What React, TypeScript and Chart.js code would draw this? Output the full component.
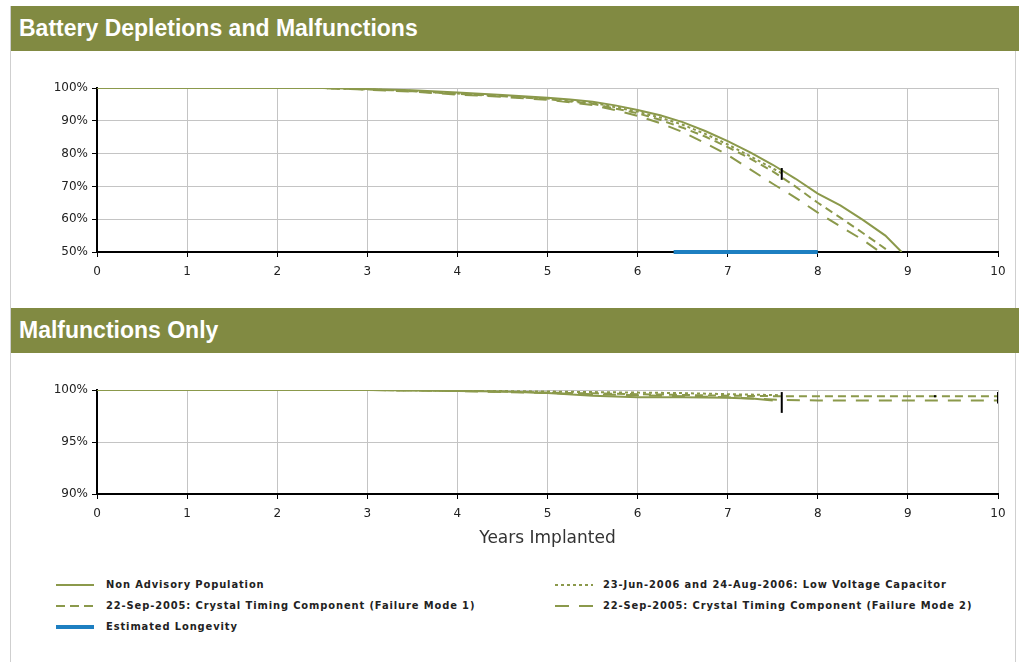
import React, { useEffect, useRef } from "react";
import { Chart, registerables } from "chart.js";

Chart.register(...registerables);

// ---------- Labels ----------
const HEADER_TOP = "Battery Depletions and Malfunctions";
const HEADER_BOTTOM = "Malfunctions Only";
const X_TITLE = "Years Implanted";
const SERIES_NAMES = [
  "Non Advisory Population",
  "23-Jun-2006 and 24-Aug-2006: Low Voltage Capacitor",
  "22-Sep-2005: Crystal Timing Component (Failure Mode 1)",
  "22-Sep-2005: Crystal Timing Component (Failure Mode 2)",
  "Estimated Longevity",
];

// ---------- Top chart: Battery Depletions and Malfunctions (%) ----------
const batNonAdvX = [0, 1, 2, 2.5, 3, 3.5, 4, 4.5, 5, 5.25, 5.5, 5.75, 6, 6.25, 6.5, 6.75, 7, 7.25, 7.5, 7.75, 8, 8.25, 8.5, 8.75, 8.93];
const batNonAdvY = [100, 100, 100, 100, 99.7, 99.3, 98.6, 97.9, 97.0, 96.5, 95.8, 94.7, 93.3, 91.7, 89.6, 86.9, 83.8, 80.4, 76.6, 72.4, 67.8, 64.2, 59.8, 55.0, 50];

const batLvcX = [0, 1, 2, 2.5, 3, 3.5, 4, 4.5, 5, 5.5, 6, 6.25, 6.5, 6.75, 7, 7.25, 7.5, 7.6];
const batLvcY = [100, 100, 100, 100, 99.6, 99.1, 98.3, 97.6, 96.8, 95.5, 92.8, 91.0, 88.8, 86.0, 82.8, 79.2, 75.5, 74.0];

const batMode1X = [0, 1, 2, 2.5, 3, 3.5, 4, 4.5, 5, 5.5, 6, 6.25, 6.5, 6.75, 7, 7.25, 7.5, 7.75, 8, 8.25, 8.5, 8.8];
const batMode1Y = [100, 100, 100, 100, 99.6, 99.0, 98.2, 97.5, 96.6, 95.2, 92.3, 90.3, 87.9, 85.2, 82.0, 78.5, 74.6, 70.0, 65.0, 60.5, 55.8, 50];

const batMode2X = [0, 1, 2, 2.5, 3, 3.5, 4, 4.5, 5, 5.5, 5.75, 6, 6.25, 6.5, 6.75, 7, 7.25, 7.5, 7.75, 8, 8.25, 8.5, 8.69];
const batMode2Y = [100, 100, 100, 100, 99.5, 98.9, 98.0, 97.3, 96.4, 94.8, 93.3, 91.5, 89.3, 86.6, 83.2, 79.6, 75.2, 70.8, 66.6, 62.0, 57.8, 53.7, 50];

const longevityX = [6.4, 8.0];
const longevityY = [50, 50];

const batErrX = [7.6, 7.6];
const batErrY = [72, 75.6];

// ---------- Bottom chart: Malfunctions Only (%) ----------
const malNonAdvX = [0, 1, 2, 3, 3.5, 4, 4.5, 5, 5.5, 6, 6.5, 7, 7.3, 7.5];
const malNonAdvY = [100, 100, 100, 100, 99.95, 99.9, 99.85, 99.7, 99.45, 99.3, 99.3, 99.25, 99.15, 99.0];

const malLvcX = [0, 1, 2, 3, 4, 5, 5.5, 6, 6.5, 7, 7.6];
const malLvcY = [100, 100, 100, 100, 99.95, 99.85, 99.8, 99.75, 99.7, 99.6, 99.5];

const malMode1X = [0, 1, 2, 3, 4, 5, 6, 7, 7.6, 8, 9, 9.3, 10];
const malMode1Y = [100, 100, 100, 100, 99.95, 99.75, 99.6, 99.45, 99.4, 99.4, 99.4, 99.4, 99.4];

const malMode2X = [0, 1, 2, 3, 4, 5, 6, 7, 7.6, 8, 9, 10];
const malMode2Y = [100, 100, 100, 100, 99.9, 99.7, 99.5, 99.3, 99.05, 99.0, 99.0, 99.0];

const malErr1X = [7.6, 7.6];
const malErr1Y = [97.8, 99.8];
const malErr2X = [9.3, 9.3];
const malErr2Y = [99.3, 99.5];
const malErr3X = [10, 10];
const malErr3Y = [98.7, 99.8];

// ---------- Axis ticks ----------
const X_MIN = 0;
const X_MAX = 10;
const X_STEP = 1;
const TOP_Y = [50, 100, 10];
const BOTTOM_Y = [90, 100, 5];

// ---------- Styles ----------
const OLIVE = "#8b994b";
const BLUE = "#1d7fc1";
const HEADER_BG = "#818a42";
const DASH_LVC = [3, 3];
const DASH_M1 = [8, 5];
const DASH_M2 = [13, 10];

const pts = (xs: number[], ys: number[]) => xs.map((x, i) => ({ x, y: ys[i] }));

const lineDs = (xs: number[], ys: number[], dash: number[], color = OLIVE, width = 2, clip: any = undefined) => ({
  data: pts(xs, ys),
  borderColor: color,
  borderWidth: width,
  borderDash: dash,
  pointRadius: 0,
  tension: 0,
  fill: false,
  ...(clip !== undefined ? { clip } : {}),
});

const tickFont = { family: "'DejaVu Sans', sans-serif", size: 12 };

function makeOptions(yCfg: number[], pad: any, xHeight: number, withTitle: boolean) {
  return {
    responsive: false,
    maintainAspectRatio: false,
    animation: false,
    layout: { padding: pad },
    plugins: { legend: { display: false }, tooltip: { enabled: false } },
    scales: {
      x: {
        type: "linear",
        min: X_MIN,
        max: X_MAX,
        ticks: { stepSize: X_STEP, font: tickFont, color: "#222", padding: 8, maxRotation: 0 },
        grid: { color: "#c4c4c4", tickColor: "#000", tickLength: 5, lineWidth: 1 },
        border: { display: true, color: "#000", width: 2 },
        title: withTitle
          ? { display: true, text: X_TITLE, font: { family: "'DejaVu Sans', sans-serif", size: 17 }, color: "#333", padding: 4 }
          : { display: false },
        afterFit: (s: any) => {
          s.height = xHeight;
        },
      },
      y: {
        type: "linear",
        min: yCfg[0],
        max: yCfg[1],
        ticks: { stepSize: yCfg[2], font: tickFont, color: "#222", padding: 4, callback: (v: any) => v + "%" },
        grid: { color: "#c4c4c4", tickColor: "#000", tickLength: 5, lineWidth: 1 },
        border: { display: true, color: "#000", width: 2 },
        afterFit: (s: any) => {
          s.width = 97;
        },
      },
    },
  };
}

export default function App() {
  const topRef = useRef<HTMLCanvasElement>(null);
  const botRef = useRef<HTMLCanvasElement>(null);

  useEffect(() => {
    const top = new Chart(topRef.current as HTMLCanvasElement, {
      type: "line",
      data: {
        datasets: [
          lineDs(batErrX, batErrY, [], "#000", 2),
          lineDs(longevityX, longevityY, [], BLUE, 4, false),
          lineDs(batNonAdvX, batNonAdvY, []),
          lineDs(batLvcX, batLvcY, DASH_LVC),
          lineDs(batMode1X, batMode1Y, DASH_M1),
          lineDs(batMode2X, batMode2Y, DASH_M2),
        ],
      },
      options: makeOptions(TOP_Y, { left: 0, right: 21, top: 28, bottom: 23 }, 25, false) as any,
    });
    const bot = new Chart(botRef.current as HTMLCanvasElement, {
      type: "line",
      data: {
        datasets: [
          lineDs(malErr1X, malErr1Y, [], "#000", 2),
          lineDs(malErr2X, malErr2Y, [], "#000", 2),
          lineDs(malErr3X, malErr3Y, [], "#000", 2),
          lineDs(malNonAdvX, malNonAdvY, []),
          lineDs(malLvcX, malLvcY, DASH_LVC),
          lineDs(malMode1X, malMode1Y, DASH_M1),
          lineDs(malMode2X, malMode2Y, DASH_M2),
        ],
      },
      options: makeOptions(BOTTOM_Y, { left: 0, right: 21, top: 30, bottom: 7 }, 59, true) as any,
    });
    return () => {
      top.destroy();
      bot.destroy();
    };
  }, []);

  const headerStyle = (topPx: number): React.CSSProperties => ({
    position: "absolute",
    left: 11,
    top: topPx,
    width: 1008,
    height: 45,
    background: HEADER_BG,
    color: "#fff",
    fontFamily: "'Liberation Sans', Arial, sans-serif",
    fontWeight: "bold",
    fontSize: 23,
    lineHeight: "44px",
    paddingLeft: 8,
    boxSizing: "border-box",
  });

  const legendText: React.CSSProperties = {
    position: "absolute",
    fontFamily: "'DejaVu Sans Condensed', 'DejaVu Sans', sans-serif",
    fontWeight: "bold",
    fontSize: 11,
    letterSpacing: 0.9,
    color: "#222",
    lineHeight: "14px",
    whiteSpace: "nowrap",
  };

  const sample = (left: number, top: number, dash: string, color: string, width: number) => (
    <svg style={{ position: "absolute", left, top: top - 4 }} width={38} height={8}>
      <line x1={0} y1={4} x2={38} y2={4} stroke={color} strokeWidth={width} strokeDasharray={dash} />
    </svg>
  );

  const legendItems = [
    { col: 0, row: 0, dash: "", color: OLIVE, width: 2, name: SERIES_NAMES[0] },
    { col: 1, row: 0, dash: "3,3", color: OLIVE, width: 2, name: SERIES_NAMES[1] },
    { col: 0, row: 1, dash: "9,5", color: OLIVE, width: 2, name: SERIES_NAMES[2] },
    { col: 1, row: 1, dash: "14,10", color: OLIVE, width: 2, name: SERIES_NAMES[3] },
    { col: 0, row: 2, dash: "", color: BLUE, width: 4, name: SERIES_NAMES[4] },
  ];

  return (
    <div style={{ position: "fixed", left: 0, top: 0, width: 1019, height: 662, background: "#fff", overflow: "hidden" }}>
      <div style={{ position: "absolute", left: 10, top: 6, width: 1, height: 662, background: "#cfcfcf" }} />
      <div style={{ position: "absolute", left: 1015, top: 51, width: 1, height: 662, background: "#cfcfcf" }} />
      <div style={headerStyle(6)}>{HEADER_TOP}</div>
      <div style={headerStyle(308)}>{HEADER_BOTTOM}</div>
      <canvas ref={topRef} width={1019} height={240} style={{ position: "absolute", left: 0, top: 60, width: 1019, height: 240 }} />
      <canvas ref={botRef} width={1019} height={200} style={{ position: "absolute", left: 0, top: 360, width: 1019, height: 200 }} />
      {legendItems.map((it, i) => {
        const sx = it.col === 0 ? 56 : 555;
        const tx = it.col === 0 ? 106 : 603;
        const cy = 585 + it.row * 21;
        return (
          <React.Fragment key={i}>
            {sample(sx, cy, it.dash, it.color, it.width)}
            <div style={{ ...legendText, left: tx, top: cy - 7 }}>{it.name}</div>
          </React.Fragment>
        );
      })}
    </div>
  );
}
